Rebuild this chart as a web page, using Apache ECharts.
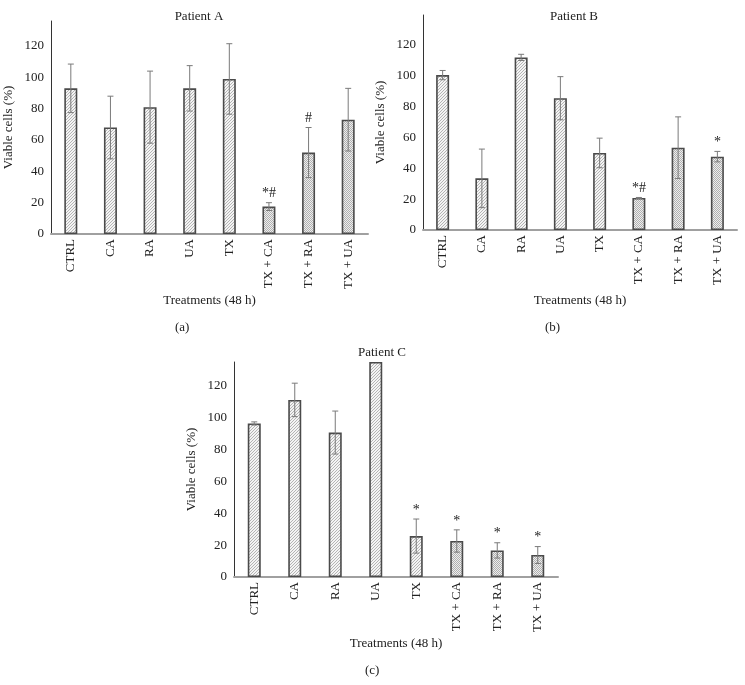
<!DOCTYPE html>
<html>
<head>
<meta charset="utf-8">
<script src="https://cdn.jsdelivr.net/npm/echarts@6/dist/echarts.min.js"></script>
<style>
  html, body { margin: 0; padding: 0; background: #fff; }
  #chart { width: 745px; height: 685px; }
</style>
</head>
<body>
<div id="chart"></div>
<script>
// treatments on the x axis
const categories = ['CTRL', 'CA', 'RA', 'UA', 'TX', 'TX + CA', 'TX + RA', 'TX + UA']
const yTicks = [0, 20, 40, 60, 80, 100, 120]

// viable cells (%), mean and error per patient
const patientA = [93, 68, 81, 93, 99, 17.5, 52, 73]
const errA = [15.5, 20, 23, 14.5, 22.5, 2.5, 16, 20]
const markA = ['', '', '', '', '', '*#', '#', '']

const patientB = [100.5, 33.5, 112, 85.5, 50, 20.8, 53.4, 47.6]
const errB = [3, 19, 2, 14, 9.6, 0.3, 20, 3.4]
const markB = ['', '', '', '', '', '*#', '', '*']

const patientC = [96.4, 111.2, 90.7, 135, 25.7, 22.6, 16.7, 13.8]
const errC = [1, 10.5, 13.5, 0, 10.7, 7, 4.8, 5.3]
const markC = ['', '', '', '', '*', '*', '*', '*']

const FONT = '"Liberation Serif", "DejaVu Serif", serif'
const TXT = '#222'

// fill patterns
function hatchPattern () {
  const c = document.createElement('canvas')
  c.width = 3; c.height = 3
  const g = c.getContext('2d')
  g.fillStyle = '#f4f4f4'; g.fillRect(0, 0, 3, 3)
  g.fillStyle = '#b4b4b4'
  for (let i = 0; i < 3; i++) g.fillRect(i, 2 - i, 1, 1)
  return { image: c, repeat: 'repeat' }
}
function dotPattern () {
  const c = document.createElement('canvas')
  c.width = 2; c.height = 2
  const g = c.getContext('2d')
  g.fillStyle = '#eeeeee'; g.fillRect(0, 0, 2, 2)
  g.fillStyle = '#b0b0b0'
  g.fillRect(0, 0, 1, 1); g.fillRect(1, 1, 1, 1)
  return { image: c, repeat: 'repeat' }
}
const hatch = hatchPattern()
const dots = dotPattern()

function barData (values, lastHatch) {
  return values.map((v, i) => ({
    value: v,
    itemStyle: { color: i <= lastHatch ? hatch : dots }
  }))
}

function errData (values, errs) {
  return values.map((v, i) => [i, v, errs[i]])
}

const marks = {}

function renderErr (params, api) {
  const i = api.value(0)
  const v = api.value(1)
  const e = api.value(2)
  const mark = marks[params.seriesIndex][params.dataIndex]
  const children = []
  const top = api.coord([i, v + e])
  const bot = api.coord([i, v - e])
  const lineStyle = { stroke: '#7a7a7a', lineWidth: 1 }
  if (e > 0) {
    children.push({ type: 'line', shape: { x1: top[0], y1: top[1], x2: bot[0], y2: bot[1] }, style: lineStyle })
    children.push({ type: 'line', shape: { x1: top[0] - 3, y1: top[1], x2: top[0] + 3, y2: top[1] }, style: lineStyle })
    children.push({ type: 'line', shape: { x1: bot[0] - 3, y1: bot[1], x2: bot[0] + 3, y2: bot[1] }, style: lineStyle })
  }
  if (mark) {
    children.push({
      type: 'text',
      style: {
        text: mark, x: top[0], y: top[1] - 2,
        align: 'center', verticalAlign: 'bottom',
        fontFamily: FONT, fontSize: 14, fill: TXT
      }
    })
  }
  return { type: 'group', children: children }
}

const panels = [
  { title: 'Patient A', letter: '(a)', grid: { left: 51, top: 21, width: 317, height: 213 }, max: 136,
    values: patientA, errs: errA, marks: markA, lastHatch: 4, nameGap: 60, titleX: 194, titleY: 5, letterX: 183, letterY: 321 },
  { title: 'Patient B', letter: '(b)', grid: { left: 423, top: 15, width: 314, height: 215 }, max: 139.5,
    values: patientB, errs: errB, marks: markB, lastHatch: 4, nameGap: 64, titleX: 569, titleY: 5, letterX: 553, letterY: 321 },
  { title: 'Patient C', letter: '(c)', grid: { left: 234, top: 362, width: 324, height: 215 }, max: 135,
    values: patientC, errs: errC, marks: markC, lastHatch: 4, nameGap: 60, titleX: 377, titleY: 341, letterX: 373, letterY: 664 }
]

const option = {
  animation: false,
  backgroundColor: '#fff',
  textStyle: { fontFamily: FONT, color: TXT },
  title: panels.map(p => ({
    text: p.title, left: p.titleX, top: p.titleY, textAlign: 'center',
    textStyle: { fontFamily: FONT, fontSize: 13, fontWeight: 'normal', color: TXT }
  })),
  graphic: panels.map(p => ({
    type: 'text', left: p.letterX - 8, top: p.letterY,
    style: { text: p.letter, fontFamily: FONT, fontSize: 13, fill: TXT }
  })),
  grid: panels.map(p => p.grid),
  xAxis: panels.map((p, k) => ({
    type: 'category', gridIndex: k, data: categories,
    name: 'Treatments (48 h)', nameLocation: 'middle', nameGap: p.nameGap,
    nameTextStyle: { fontFamily: FONT, fontSize: 13, color: TXT },
    axisLine: { lineStyle: { color: '#a0a0a0', width: 2 } },
    axisTick: { show: false },
    axisLabel: { rotate: 90, margin: 5, fontFamily: FONT, fontSize: 13, color: TXT }
  })),
  yAxis: panels.map((p, k) => ({
    type: 'value', gridIndex: k, min: 0, max: p.max, interval: 20,
    name: 'Viable cells (%)', nameLocation: 'middle', nameGap: 36, nameRotate: 90,
    nameTextStyle: { fontFamily: FONT, fontSize: 13, color: TXT },
    axisLine: { show: true, lineStyle: { color: '#333', width: 1 } },
    axisTick: { show: false },
    splitLine: { show: false },
    axisLabel: {
      margin: 7, fontFamily: FONT, fontSize: 13, color: TXT,
      formatter: v => (yTicks.indexOf(v) >= 0 ? String(v) : '')
    }
  })),
  series: []
}

panels.forEach((p, k) => {
  option.series.push({
    type: 'bar', xAxisIndex: k, yAxisIndex: k, barWidth: 13,
    itemStyle: { borderColor: '#4a4a4a', borderWidth: 1.6 },
    data: barData(p.values, p.lastHatch)
  })
  marks[option.series.length] = p.marks
  option.series.push({
    type: 'custom', xAxisIndex: k, yAxisIndex: k, z: 5,
    renderItem: renderErr,
    data: errData(p.values, p.errs)
  })
})

const chart = echarts.init(document.getElementById('chart'))
chart.setOption(option)
</script>
</body>
</html>
